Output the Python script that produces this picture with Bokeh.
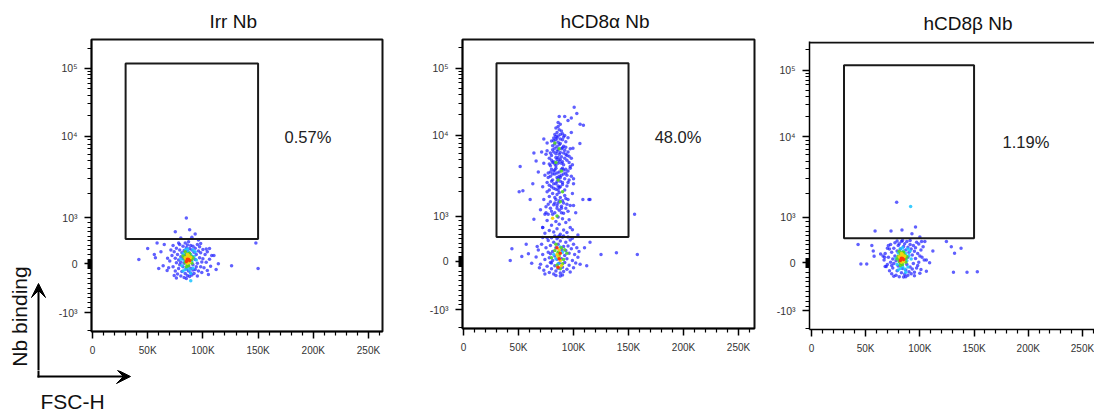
import numpy as np
from bokeh.plotting import figure
from bokeh.layouts import row, column
from bokeh.models import Range1d, FixedTicker, Label, Arrow, VeeHead, Span
from bokeh.embed import file_html
from bokeh.resources import INLINE

# ---------------- data ----------------
panel_titles = ["Irr Nb", "hCD8\u03b1 Nb", "hCD8\u03b2 Nb"]
gate_percent = ["0.57%", "48.0%", "1.19%"]
gate_fsc_k = [30, 150]          # gate limits on FSC-H (x 1000)
gate_nb = [540, 118000]         # gate limits on Nb binding
x_tick_k = [0, 50, 100, 150, 200, 250]
x_tick_text = ["0", "50K", "100K", "150K", "200K", "250K"]
y_tick_nb = [-1000, 0, 1000, 10000, 100000]
y_tick_text = ["-10\u00b3", "0", "10\u00b3", "10\u2074", "10\u2075"]
x_label = "FSC-H"
y_label = "Nb binding"

# events (FSC-H in K, Nb binding), grouped by pseudocolor density level 0..4
irr_lvl0 = [(70,60),(72,180),(73,-60),(74,260),(75,120),(75,-150),(76,20),(76,340),(77,-210),(77,200),
            (78,80),(78,-100),(79,300),(79,-20),(79,420),(80,150),(80,-250),(80,30),(81,240),(81,-160),
            (82,380),(82,-60),(82,110),(83,-280),(83,290),(83,10),(84,450),(84,-200),(84,190),(85,-110),
            (85,350),(85,-300),(86,410),(86,-240),(86,270),(87,-150),(87,480),(87,-40),(88,330),(88,-260),
            (88,220),(89,-190),(89,400),(89,-90),(90,300),(90,-230),(90,160),(91,-130),(91,380),(91,-20),
            (92,250),(92,-200),(93,90),(93,340),(93,-120),(94,200),(94,-60),(95,420),(95,10),(95,-250),
            (96,280),(96,-150),(97,130),(97,370),(98,-60),(98,240),(99,40),(99,-180),(100,310),(100,110),
            (101,-80),(102,200),(103,30),(104,-140),(104,260),(106,100),(107,-50),(108,180),(68,120),(69,-80),
            (71,300),(73,400),(74,-240),(76,-290),(78,450),
            (42,90),(50,330),(56,200),(57,130),(58.5,450),(75,700),(85,1000),(88,740),(93,650),(106,330),
            (114,0),(126,-40),(148,450),(150,-100),(105,-220),(64,-40),(67.6,-140),(98,440),(103,320),(62,260),
            (60,-100),(110,180),(112,-120),(65,420),(80,560),(90,580),(96,520)]
irr_lvl1 = [(80,100),(81,-40),(82,220),(83,60),(84,-120),(84,300),(85,150),(86,-80),(87,260),(88,-130),
            (89,200),(90,40),(91,-90),(92,160),(93,260),(82,-150),(91,300),(94,80),(89,-200),(86,320),(89,-350)]
irr_lvl2 = [(83,140),(84,20),(85,200),(86,60),(87,-40),(88,150),(89,90),(90,10),(85,-60),(88,230),(84,100),(91,130),
            (82,170),(86,-20),(89,170),(84,260),(90,90),(87,220)]
irr_lvl3 = [(85,90),(86,150),(87,40),(88,110),(87,180),(86,10),(84,130),(89,140),(86,200),(88,30)]
irr_lvl4 = [(86,100),(87,90),(85,50),(88,70)]

a_lvl0 = [(74,620),(78,680),(82,650),(85,720),(88,600),(91,690),(94,640),(97,750),(80,800),(84,880),
          (87,820),(90,940),(93,860),(76,900),(99,700),(86,980),(72,750),(96,920),
          (77,1050),(80,1150),(83,1100),(85,1250),(87,1180),(89,1320),(91,1080),(94,1400),(79,1500),(82,1380),
          (84,1600),(86,1450),(88,1700),(90,1550),(92,1800),(81,1900),(85,1850),(87,1950),(89,1250),(83,1700),
          (95,1150),(75,1300),(93,1650),(78,1750),
          (78,2100),(80,2300),(82,2200),(84,2500),(86,2350),(88,2700),(90,2450),(92,2900),(79,3100),(81,2800),
          (83,3300),(85,3000),(87,3500),(89,3200),(91,3700),(93,3400),(80,3800),(82,3600),(84,3900),(86,2100),
          (88,3000),(90,3900),(76,2600),(95,2600),(77,3400),(94,3200),(85,2650),(87,2250),
          (79,4200),(81,4600),(83,4400),(85,5000),(87,4800),(89,5400),(91,4300),(93,5800),(80,5600),(82,6200),
          (84,5900),(86,6600),(88,6100),(90,7000),(92,6500),(81,7400),(83,7800),(85,7200),(87,7600),(89,4500),
          (78,5200),(94,4900),(76,6400),(96,5500),(84,4200),(86,5300),(88,7900),(91,6000),
          (80,8500),(82,9200),(84,8800),(86,9800),(88,9000),(90,10500),(85,11000),(87,12000),(89,11500),(83,10200),
          (91,9500),(93,8300),(86,13500),(88,14500),(84,12800),
          (86,15500),(92,19000),(87,19000),(100.6,26000),(103,21000),(106,14600),(109,14000),(95,16500),(98,18000),
          (75,1100),(77,1400),(79,1250),(81,1050),(83,1450),(85,1350),(87,1550),(89,1100),(91,1450),(93,1250),
          (95,1600),(97,1350),(76,2000),(78,2400),(80,2700),(82,2500),(84,2150),(86,2900),(88,2300),(90,2600),
          (92,2100),(94,2350),(96,2800),(98,3100),(77,3000),(79,3500),(81,3300),(83,3700),(85,3400),(87,3100),
          (89,3800),(91,3300),(93,3800),(95,3600),(97,3900),(78,4400),(80,4900),(82,4700),(84,5300),(86,4500),
          (88,5000),(90,4700),(92,5200),(94,5600),(96,4600),(79,6000),(81,6600),(83,6900),(85,6300),(87,5800),
          (89,6800),(91,7300),(93,7100),(95,6200),(82,8600),(84,9600),(86,8200),(88,10200),(90,8800),(92,9900),
          (85,9200),(73,1600),(72,2300),(74,3200),(73,4500),(75,5800),(99,1900),(100,2900),(99,4300),(98,5200),
          (97,6800),(76,8000),(95,9300),(74,1050),(100,1350),
          (64,6000),(51.5,4100),(50.6,2000),(54,2050),(60.6,1600),(71,6200),(63,2500),(115,1600),(64,930),(72,750),
          (97,4100),(99.5,6900),(108.5,1600),(114,1600),(155.5,1050),(105.8,7900),(104,580),(68,3500),(70,1200),(100,2500),
          (102,1100),(73,9000),(98,11000),(66,4800),
          (66,100),(68,250),(70,-60),(71,380),(72,150),(73,-180),(74,40),(75,300),(76,-100),(77,460),
          (77,200),(78,-230),(78,80),(79,350),(79,-20),(80,520),(80,-150),(81,220),(81,20),(82,-260),
          (82,420),(83,120),(83,-90),(84,300),(84,-200),(85,500),(85,50),(86,-140),(86,380),(87,180),
          (87,-40),(88,450),(88,-240),(89,260),(89,60),(90,-120),(90,540),(91,330),(91,-210),(92,130),
          (92,-20),(93,420),(93,240),(94,-160),(94,60),(95,340),(96,-80),(96,180),(97,470),(97,-220),
          (98,280),(99,20),(100,380),(100,-130),(101,150),(102,-30),(103,300),(104,90),(76,520),(74,-260),
          (69,-130),(67,330),(105,220),(106,-60),(72,530),(99,510),(88,-300),(84,-290),(90,-280),(83,560),
          (87,560),(91,560),(86,540),(80,-30),(95,540),(79,170),
          (44,280),(42.5,20),(53,110),(59,170),(125,150),(139,190),(158,150),(62,-40),(110,300),(115,420),
          (57,380),(112,-90)]
a_lvl1 = [(82,150),(88,320),(86,-50),(90,200),(84,60)]
a_lvl2 = [(86,2800),(88,1500),(84,4600),(87,6800),(90,2000),(85,1000),(89,3600),(83,8000),
          (83,240),(85,-80),(87,120),(89,300),(91,40),(86,200),(84,380),(88,-150),(90,-50),(92,260),(80,80),(94,180)]
a_lvl3 = [(86,100),(88,20),(87,250),(85,150),(89,-90),(81,950)]
a_lvl4 = [(87,60),(86,-120),(88,180),(85,300)]

b_lvl0 = [(67,60),(68,200),(69,-80),(70,320),(71,120),(72,-170),(73,10),(73,400),(74,-230),(74,230),
          (75,80),(75,-110),(76,320),(76,-20),(77,440),(77,150),(78,-260),(78,40),(79,260),(79,-170),
          (80,380),(80,-70),(81,130),(81,-290),(82,300),(82,0),(83,470),(83,-210),(84,200),(84,-120),
          (85,360),(85,-300),(86,420),(86,-240),(87,280),(87,-150),(88,470),(88,-40),(89,340),(89,-260),
          (90,230),(90,-190),(91,400),(91,-90),(92,300),(92,-230),(93,170),(93,-130),(94,380),(94,-20),
          (95,250),(95,-200),(96,90),(96,330),(97,-110),(98,200),(98,-60),(99,410),(99,10),(100,-220),
          (101,280),(101,-140),(102,120),(103,350),(76,-280),(72,300),(70,-40),(79,480),(84,490),(91,490),
          (97,450),(66,150),(104,60),(100,150),(95,-270),(71,380),(74,-60),(87,-290),(81,420),(89,120),
          (78.6,1540),(58.7,700),(73.4,700),(83.5,720),(96,790),(92.7,640),(100,570),(43,400),(55.7,380),(57,260),
          (45.6,-30),(51,-30),(57.8,140),(63.8,190),(67.5,120),(68,-80),(106,60),(109,0),(106,-180),(112,260),
          (101.6,470),(104.6,470),(124.5,470),(129,350),(138,320),(132,210),(131,-200),(143.5,-200),(153,-190)]
b_lvl1 = [(78,100),(79,-40),(80,220),(81,60),(82,-120),(82,300),(83,150),(84,-80),(85,260),(86,-130),
          (87,200),(88,40),(89,-90),(90,160),(91,260),(80,-150),(89,300),(92,80),(87,-200),(84,330),(91.5,1370)]
b_lvl2 = [(80,140),(81,20),(82,200),(83,60),(84,-40),(85,150),(86,90),(87,10),(82,-60),(85,230),(81,100),(88,130),
          (79,80),(83,-20),(86,170),(81,250),(87,80),(84,230)]
b_lvl3 = [(82,90),(83,150),(84,40),(85,110),(84,180),(83,10),(81,130),(86,140),(83,200),(85,30)]
b_lvl4 = [(83,100),(84,90),(82,50),(85,70)]

panel_events = [
    [irr_lvl0, irr_lvl1, irr_lvl2, irr_lvl3, irr_lvl4],
    [a_lvl0, a_lvl1, a_lvl2, a_lvl3, a_lvl4],
    [b_lvl0, b_lvl1, b_lvl2, b_lvl3, b_lvl4],
]

# ---------------- styling ----------------
LEVEL_COLORS = ["#1c1cff", "#19c3ff", "#52d424", "#f2d40c", "#ff3a0a"]
LEVEL_ALPHA = [0.7, 0.85, 0.9, 0.95, 1.0]
FONT = "Liberation Sans"
H = 417
SPLIT = 370      # canvas row where the first panel stops and the bottom strip begins


def biex(v):
    """Biexponential-like display transform (linear near 0, log above |1000|)."""
    v = np.asarray(v, dtype=float)
    out = np.where(v >= 0, 68 + v * 0.046, 68 + v * 0.049)
    out = np.where(v >= 1000,
                   np.interp(np.log10(np.maximum(v, 1.0)), [3, 4, 5, 6], [114, 196, 264, 332]), out)
    out = np.where(v <= -1000, 19 - (np.log10(np.maximum(-v, 1.0)) - 3) * 60, out)
    return out


def y_minor_raw():
    pos = [10 * i for i in range(1, 10)] + [100 * i for i in range(1, 10)]
    pos += [1000 * i for i in range(2, 10)] + [10000 * i for i in range(2, 10)] + [200000]
    neg = [-10 * i for i in range(1, 10)] + [-100 * i for i in range(1, 10)] + [-2000]
    return pos + neg


def make_panel(idx, width, height, bl, br, bt, bb, x0, x1, title_offset, pct_xy, outline=True):
    p = figure(width=width, height=height, x_range=Range1d(x0, x1), y_range=Range1d(0, 293),
               output_backend="svg", toolbar_location=None, frame_align=False,
               min_border_left=bl, min_border_right=br, min_border_top=bt, min_border_bottom=bb)
    p.xgrid.visible = False
    p.ygrid.visible = False
    p.background_fill_color = "white"
    p.border_fill_color = "white"

    p.title.text = panel_titles[idx]
    p.title.align = "left"
    p.title.offset = title_offset
    p.title.text_font = FONT
    p.title.text_font_size = "19px"
    p.title.text_font_style = "normal"
    p.title.text_color = "#111111"
    p.title.standoff = 16

    # x axis
    xa = p.below[0]
    xa.ticker = FixedTicker(ticks=x_tick_k, minor_ticks=[v for v in range(10, 270, 10) if v % 50])
    xa.major_label_overrides = {k: t for k, t in zip(x_tick_k, x_tick_text)}
    xa.axis_line_width = 1.5
    xa.major_tick_out = 7
    xa.major_tick_in = 0
    xa.minor_tick_out = 4
    xa.minor_tick_in = 0
    xa.major_tick_line_width = 1.5
    xa.minor_tick_line_width = 1.2
    xa.major_label_standoff = 6
    xa.major_label_text_font = FONT
    xa.major_label_text_font_size = "10px"
    xa.major_label_text_color = "#333333"

    # y axis (biexponential display)
    ya = p.left[0]
    maj = [round(float(t), 3) for t in biex(y_tick_nb)]
    mnr = [round(float(t), 3) for t in biex(y_minor_raw()) if 0 < t < 293]
    ya.ticker = FixedTicker(ticks=maj, minor_ticks=mnr)
    ya.major_label_overrides = {k: t for k, t in zip(maj, y_tick_text)}
    ya.axis_line_width = 1.5
    ya.major_tick_out = 7
    ya.major_tick_in = 0
    ya.minor_tick_out = 4
    ya.minor_tick_in = 0
    ya.major_tick_line_width = 1.5
    ya.minor_tick_line_width = 1.2
    ya.major_label_standoff = 7
    ya.major_label_text_font = FONT
    ya.major_label_text_font_size = "10.5px"
    ya.major_label_text_color = "#333333"

    if outline:
        p.outline_line_color = "#111111"
        p.outline_line_width = 2
    else:
        p.outline_line_color = None
        p.add_layout(Span(location=292.0, dimension="width", line_color="#111111", line_width=2))

    # events
    for lvl, pts in enumerate(panel_events[idx]):
        arr = np.array(pts, dtype=float)
        p.scatter(arr[:, 0], biex(arr[:, 1]), size=3.5, marker="circle",
                  fill_color=LEVEL_COLORS[lvl], fill_alpha=LEVEL_ALPHA[lvl], line_color=None)

    # gate
    p.quad(left=[gate_fsc_k[0]], right=[gate_fsc_k[1]],
           bottom=[float(biex(gate_nb[0]))], top=[float(biex(gate_nb[1]))],
           fill_color=None, line_color="#1a1a1a", line_width=2)

    p.add_layout(Label(x=pct_xy[0], y=pct_xy[1], text=gate_percent[idx], text_align="center",
                       text_baseline="alphabetic", text_font=FONT, text_font_size="16.5px",
                       text_color="#222222"))
    return p


def blank(width, height):
    """Plain pixel canvas (x: px from left, y: px from bottom) used for the axis-direction key."""
    f = figure(width=width, height=height, x_range=Range1d(0, width), y_range=Range1d(0, height),
               output_backend="svg", toolbar_location=None, x_axis_type=None, y_axis_type=None,
               frame_align=False, title=None, min_border=0, min_border_left=0, min_border_right=0,
               min_border_top=0, min_border_bottom=0)
    f.outline_line_color = None
    f.xgrid.visible = False
    f.ygrid.visible = False
    f.background_fill_color = "white"
    f.border_fill_color = "white"
    return f


LW = 46
p1 = make_panel(0, 420 - LW, SPLIT, 91 - LW, 38, 38, SPLIT - 331, -0.9, 262.7, 118, (195.2, 195))
p2 = make_panel(1, 345, H, 42, 11, 38, 89, -0.9, 264.5, 98, (195, 194))
p3 = make_panel(2, 329, H, 44, 0, 41, 88, -1.8, 261.1, 114, (197.9, 190.5), outline=False)

# axis-direction key: vertical arrow + "Nb binding" (left strip), horizontal arrow + "FSC-H" (bottom strip)
head = dict(size=14, fill_color="black", line_color="black", line_width=1)
left_key = blank(LW, SPLIT)
left_key.add_layout(Arrow(end=VeeHead(**head), x_start=38, y_start=-2, x_end=38, y_end=SPLIT - 283,
                          line_width=2, line_color="black"))
left_key.add_layout(Label(x=19, y=SPLIT - 316, text=y_label, angle=np.pi / 2, text_align="center",
                          text_baseline="middle", text_font=FONT, text_font_size="21px",
                          text_color="#111111"))

BH = H - SPLIT
bottom_key = blank(420, BH)
bottom_key.segment(x0=[38], y0=[BH + 2], x1=[38], y1=[H - 376 - 1], line_width=2, line_color="black")
bottom_key.add_layout(Arrow(end=VeeHead(**head), x_start=37, y_start=H - 376, x_end=130, y_end=H - 376,
                            line_width=2, line_color="black"))
bottom_key.add_layout(Label(x=72, y=H - 401, text=x_label, text_align="center",
                            text_baseline="alphabetic", text_font=FONT, text_font_size="21px",
                            text_color="#111111"))

layout = row(column(row(left_key, p1), bottom_key), p2, p3)
open("out.html", "w").write(file_html(layout, INLINE))
